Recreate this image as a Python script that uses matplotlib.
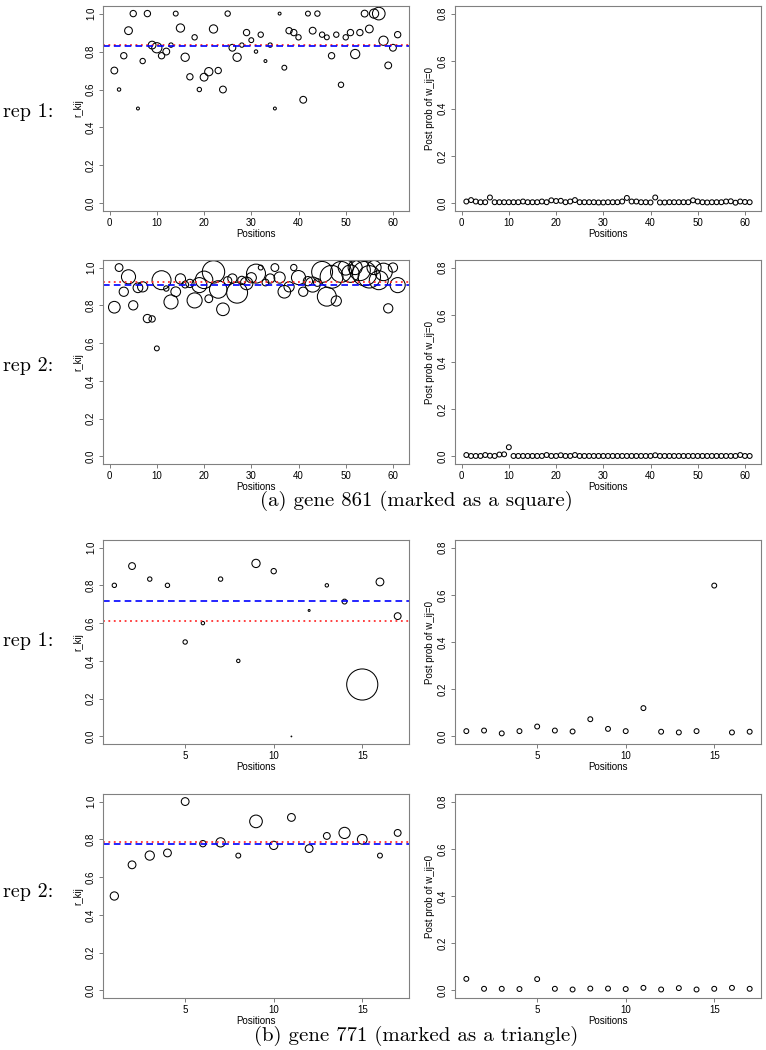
import matplotlib
matplotlib.use("Agg")
import matplotlib.pyplot as plt
import numpy as np

# gene 861, 61 positions
pos_861 = np.arange(1, 62)
r_861_rep1 = [0.70, 0.60, 0.778, 0.91, 1.0, 0.50, 0.75, 1.0, 0.834, 0.82,
              0.778, 0.80, 0.834, 1.0, 0.924, 0.77, 0.667, 0.875, 0.60, 0.665,
              0.694, 0.919, 0.70, 0.60, 1.0, 0.82, 0.77, 0.834, 0.90, 0.86,
              0.80, 0.889, 0.75, 0.834, 0.50, 1.0, 0.715, 0.91, 0.90, 0.875,
              0.546, 1.0, 0.91, 1.0, 0.889, 0.875, 0.778, 0.889, 0.625, 0.875,
              0.90, 0.787, 0.90, 1.0, 0.919, 1.0, 1.0, 0.857, 0.727, 0.82, 0.889]
cex_861_rep1 = [1.4, 0.7, 1.3, 1.6, 1.3, 0.6, 1.1, 1.3, 1.6, 2.1,
                1.3, 1.4, 0.9, 1.0, 1.7, 1.7, 1.3, 1.1, 0.9, 1.6,
                1.7, 1.7, 1.3, 1.4, 1.1, 1.4, 1.7, 0.9, 1.3, 1.0,
                0.7, 1.1, 0.6, 0.9, 0.6, 0.6, 1.0, 1.3, 1.3, 1.1,
                1.4, 1.0, 1.4, 1.1, 1.1, 1.0, 1.3, 1.1, 1.1, 1.1,
                1.3, 1.9, 1.3, 1.4, 1.6, 1.9, 2.6, 1.9, 1.4, 1.4, 1.3]
r_861_rep2 = [0.79, 1.0, 0.872, 0.951, 0.80, 0.893, 0.898, 0.73, 0.728, 0.572,
              0.933, 0.889, 0.818, 0.872, 0.94, 0.91, 0.916, 0.826, 0.907, 0.935,
              0.835, 0.977, 0.884, 0.779, 0.93, 0.942, 0.867, 0.932, 0.916, 0.946,
              0.968, 1.0, 0.921, 0.942, 1.0, 0.947, 0.872, 0.898, 1.0, 0.947,
              0.872, 0.928, 0.91, 0.921, 0.977, 0.846, 0.951, 0.823, 0.977, 1.0,
              0.968, 1.0, 0.986, 0.968, 0.951, 1.0, 0.933, 0.977, 0.784, 1.0, 0.907]
cex_861_rep2 = [2.4, 1.6, 1.9, 2.9, 1.9, 2.0, 2.1, 1.7, 1.3, 1.0,
                3.9, 1.1, 2.9, 2.0, 2.1, 1.4, 1.7, 3.1, 3.1, 3.6,
                1.6, 4.6, 3.6, 2.6, 1.7, 1.9, 4.3, 1.7, 2.6, 2.1,
                3.9, 1.0, 1.4, 1.9, 1.6, 2.3, 2.6, 2.1, 1.3, 2.9,
                1.9, 1.9, 3.1, 1.6, 4.3, 3.9, 4.7, 2.1, 4.3, 3.1,
                3.6, 2.9, 4.3, 5.0, 4.6, 2.9, 3.9, 3.6, 1.9, 1.9, 3.1]
p_861_rep1 = [0.008, 0.014, 0.008, 0.005, 0.005, 0.025, 0.005, 0.005, 0.005, 0.005,
              0.005, 0.005, 0.008, 0.005, 0.005, 0.005, 0.008, 0.005, 0.013, 0.010,
              0.011, 0.005, 0.008, 0.014, 0.005, 0.005, 0.005, 0.005, 0.004, 0.004,
              0.005, 0.005, 0.005, 0.008, 0.023, 0.008, 0.008, 0.005, 0.005, 0.004,
              0.025, 0.004, 0.004, 0.005, 0.005, 0.005, 0.005, 0.005, 0.013, 0.008,
              0.005, 0.004, 0.005, 0.005, 0.005, 0.008, 0.009, 0.003, 0.008, 0.006, 0.005]
p_861_rep2 = [0.006, 0.002, 0.002, 0.002, 0.006, 0.003, 0.002, 0.008, 0.009, 0.039,
              0.002, 0.002, 0.002, 0.002, 0.002, 0.002, 0.002, 0.006, 0.002, 0.002,
              0.005, 0.002, 0.002, 0.006, 0.002, 0.002, 0.002, 0.002, 0.002, 0.002,
              0.002, 0.002, 0.002, 0.002, 0.002, 0.002, 0.002, 0.002, 0.002, 0.002,
              0.005, 0.002, 0.002, 0.002, 0.002, 0.002, 0.002, 0.002, 0.002, 0.002,
              0.002, 0.002, 0.002, 0.002, 0.002, 0.002, 0.002, 0.002, 0.006, 0.002, 0.002]
mean_861 = [0.827, 0.91]      # blue dashed
ref_861 = [0.836, 0.921]      # red dotted

# gene 771, 17 positions
pos_771 = np.arange(1, 18)
r_771_rep1 = [0.80, 0.902, 0.833, 0.80, 0.50, 0.60, 0.833, 0.40, 0.916, 0.875,
              0.0, 0.667, 0.80, 0.714, 0.275, 0.818, 0.637]
cex_771_rep1 = [0.9, 1.4, 0.9, 0.9, 0.9, 0.7, 0.9, 0.7, 1.7, 1.1,
                0.15, 0.4, 0.7, 1.0, 6.4, 1.6, 1.4]
r_771_rep2 = [0.50, 0.665, 0.714, 0.728, 1.0, 0.777, 0.784, 0.714, 0.895, 0.768,
              0.916, 0.751, 0.818, 0.834, 0.80, 0.714, 0.834]
cex_771_rep2 = [1.7, 1.6, 1.9, 1.6, 1.6, 1.3, 1.9, 1.0, 2.6, 1.7,
                1.6, 1.6, 1.4, 2.3, 2.0, 1.0, 1.4]
p_771_rep1 = [0.0225, 0.025, 0.013, 0.0225, 0.042, 0.025, 0.021, 0.073, 0.032, 0.0225,
              0.12, 0.02, 0.017, 0.0225, 0.639, 0.017, 0.02]
p_771_rep2 = [0.049, 0.007, 0.007, 0.006, 0.048, 0.007, 0.004, 0.008, 0.008, 0.006,
              0.011, 0.004, 0.01, 0.004, 0.007, 0.011, 0.007]
mean_771 = [0.719, 0.774]
ref_771 = [0.612, 0.786]

rep_labels = ["rep 1:", "rep 2:", "rep 1:", "rep 2:"]
captions = ["(a) gene 861 (marked as a square)", "(b) gene 771 (marked as a triangle)"]

W, H = 766, 1050
fig = plt.figure(figsize=(W / 100, H / 100), dpi=100)

SANS = "Liberation Sans"
SERIF = "cmr10"
BASE = 3.5   # circle diameter (pt) for cex = 1


def rect(x0, x1, y0, y1):
    return [x0 / W, 1 - y1 / H, (x1 - x0) / W, (y1 - y0) / H]


def style(ax, pos, ylim, yticks, xticks, ylabel):
    lo, hi = pos.min(), pos.max()
    d = 0.04 * (hi - lo)
    ax.set_xlim(lo - d, hi + d)
    d = 0.04 * (ylim[1] - ylim[0])
    ax.set_ylim(ylim[0] - d, ylim[1] + d)
    ax.set_xticks(xticks)
    ax.set_yticks(yticks)
    ax.set_yticklabels([f"{t:.1f}" for t in yticks], rotation=90, va="center")
    ax.tick_params(direction="out", length=3, width=0.6, color="#666666",
                   labelsize=7, pad=2)
    for lab in ax.get_xticklabels() + ax.get_yticklabels():
        lab.set_fontfamily(SANS)
    for s in ax.spines.values():
        s.set_color("#808080")
        s.set_linewidth(0.8)
    ax.set_xlabel("Positions", fontsize=7, family=SANS, labelpad=1)
    ax.set_ylabel(ylabel, fontsize=7, family=SANS, labelpad=2)


rows = [(6, 211), (260, 464), (540, 744), (794, 998)]
left_data = [(pos_861, r_861_rep1, cex_861_rep1, mean_861[0], ref_861[0]),
             (pos_861, r_861_rep2, cex_861_rep2, mean_861[1], ref_861[1]),
             (pos_771, r_771_rep1, cex_771_rep1, mean_771[0], ref_771[0]),
             (pos_771, r_771_rep2, cex_771_rep2, mean_771[1], ref_771[1])]
right_data = [(pos_861, p_861_rep1), (pos_861, p_861_rep2),
              (pos_771, p_771_rep1), (pos_771, p_771_rep2)]
xt = [np.arange(0, 61, 10)] * 2 + [[5, 10, 15]] * 2

for i, (y0, y1) in enumerate(rows):
    pos, r, cex, m, ref = left_data[i]
    ax = fig.add_axes(rect(103, 409, y0, y1))
    ax.scatter(pos, r, s=(np.array(cex) * BASE) ** 2, facecolors="none",
               edgecolors="black", linewidths=0.75)
    ax.axhline(ref, color="#ff3030", ls=(0, (1, 2)), lw=1.3)
    ax.axhline(m, color="blue", ls=(0, (4, 2.5)), lw=1.2)
    style(ax, pos, (0, 1), np.arange(0, 1.01, 0.2), xt[i], "r_kij")

    pos, p = right_data[i]
    ax = fig.add_axes(rect(455, 761, y0, y1))
    ax.scatter(pos, p, s=BASE ** 2, facecolors="none", edgecolors="black",
               linewidths=0.75)
    style(ax, pos, (0, 0.8), np.arange(0, 0.81, 0.2), xt[i], "Post prob of w_ij=0")

rep_y = [112, 366, 641, 892]
for lab, y in zip(rep_labels, rep_y):
    fig.text(3 / W, 1 - y / H, lab, family=SERIF, fontsize=14.5,
             ha="left", va="center")

for cap, y in zip(captions, [501, 1036]):
    fig.text(416 / W, 1 - y / H, cap, family=SERIF, fontsize=15,
             ha="center", va="center")

fig.savefig("out.png", dpi=100)
